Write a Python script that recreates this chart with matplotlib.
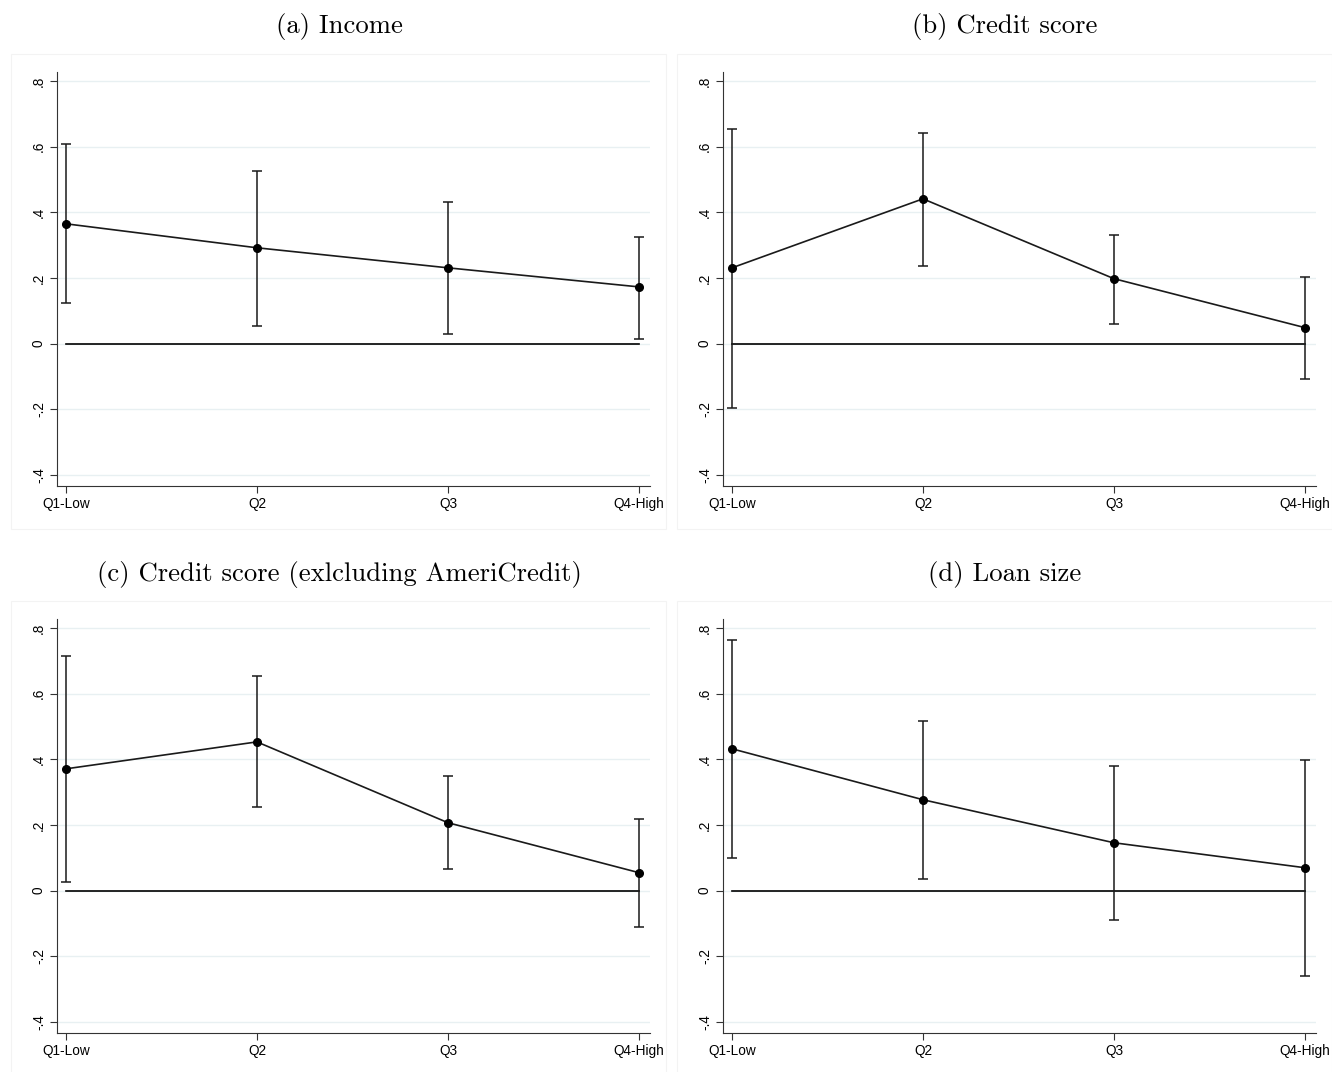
import numpy as np
import matplotlib.pyplot as plt
from matplotlib.patches import Rectangle

quartiles = ['Q1-Low', 'Q2', 'Q3', 'Q4-High']
titles = ['(a) Income', '(b) Credit score',
          '(c) Credit score (exlcluding AmeriCredit)', '(d) Loan size']

# point estimates and 95% CI bounds
coef = [[0.365, 0.292, 0.231, 0.173],
        [0.231, 0.441, 0.198, 0.049],
        [0.371, 0.453, 0.207, 0.055],
        [0.432, 0.277, 0.146, 0.070]]
upper = [[0.608, 0.526, 0.432, 0.325],
         [0.654, 0.642, 0.332, 0.204],
         [0.715, 0.654, 0.350, 0.219],
         [0.764, 0.517, 0.380, 0.398]]
lower = [[0.125, 0.055, 0.030, 0.015],
         [-0.195, 0.237, 0.061, -0.106],
         [0.027, 0.256, 0.067, -0.110],
         [0.100, 0.036, -0.088, -0.258]]

yticks = [-0.4, -0.2, 0, 0.2, 0.4, 0.6, 0.8]
ylabels = ['-.4', '-.2', '0', '.2', '.4', '.6', '.8']

W, H = 1332, 1072
fig = plt.figure(figsize=(W / 100, H / 100), dpi=100)

# pixel layout: axes left edges and top edges
lefts = [57, 723]
tops = [72, 619]
ax_w, ax_h = 593, 414

for i in range(4):
    r, c = divmod(i, 2)
    l, t = lefts[c], tops[r]

    # faint panel frame like Stata graph region
    bx = l - 46
    by = t - 18
    fig.patches.append(Rectangle((bx / W, 1 - (by + 475) / H), 655 / W, 475 / H,
                                 transform=fig.transFigure, fill=False,
                                 edgecolor='#f3f3f3', lw=0.8))

    ax = fig.add_axes([l / W, 1 - (t + ax_h) / H, ax_w / W, ax_h / H])
    x = np.arange(len(quartiles))
    c_ = np.array(coef[i])
    lo = np.array(lower[i])
    hi = np.array(upper[i])

    for yt in yticks:
        ax.axhline(yt, color='#e8f0f2', lw=1, zorder=0)
    ax.plot([x[0], x[-1]], [0, 0], color='black', lw=1.2, zorder=1)
    ax.errorbar(x, c_, yerr=[c_ - lo, hi - c_], fmt='none', ecolor='#1a1a1a',
                elinewidth=1.1, capsize=3.5, capthick=1.1, zorder=2)
    ax.plot(x, c_, color='#1a1a1a', lw=1.2, marker='o', markersize=5.5,
            markerfacecolor='black', markeredgecolor='black', zorder=3)

    ax.set_xlim(-0.047, 3.058)
    ax.set_ylim(-0.433, 0.827)
    ax.set_xticks(x)
    ax.set_xticklabels(quartiles, fontsize=9.8, family='Liberation Sans')
    ax.set_yticks(yticks)
    ax.set_yticklabels(ylabels, fontsize=9.8, family='Liberation Sans',
                       rotation=90, va='center')
    ax.spines['top'].set_visible(False)
    ax.spines['right'].set_visible(False)
    ax.spines['left'].set_color('#333333')
    ax.spines['bottom'].set_color('#333333')
    ax.tick_params(length=5, color='#333333', pad=3)

    fig.text((l + 282) / W, 1 - (t - 45) / H, titles[i], ha='center',
             va='center', fontsize=19.2, family='cmr10')

fig.savefig('out.png', dpi=100)
